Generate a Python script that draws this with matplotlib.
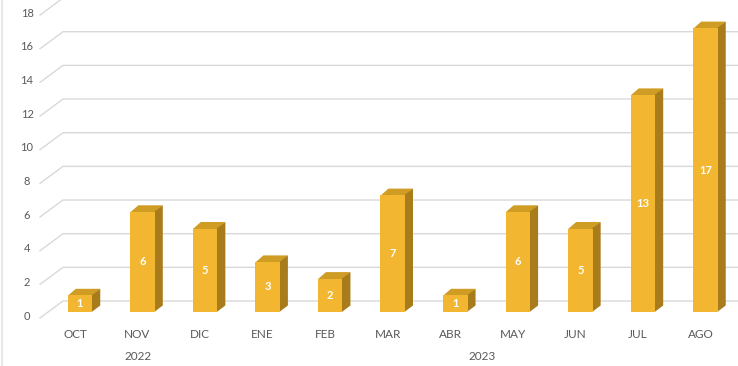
import matplotlib
matplotlib.use("Agg")
import matplotlib.pyplot as plt
from matplotlib.patches import Polygon

months = ["OCT", "NOV", "DIC", "ENE", "FEB", "MAR", "ABR", "MAY", "JUN", "JUL", "AGO"]
values = [1, 6, 5, 3, 2, 7, 1, 6, 5, 13, 17]
years = ["2022", "2023"]
year_spans = [(0, 2), (3, 10)]
yticks = [0, 2, 4, 6, 8, 10, 12, 14, 16, 18]

FRONT = "#F3B631"
TOP = "#CF9C24"
SIDE = "#A87C1B"
TEXT = "#595959"
GRID = "#D9D9D9"

plt.rcParams["font.family"] = ["Lato", "DejaVu Sans"]

W, H = 738, 366
fig = plt.figure(figsize=(W / 100, H / 100), dpi=100)
ax = fig.add_axes([0, 0, 1, 1])

# pixel scale of the data axes
PX_X = 62.55   # pixels per category
PX_Y = 16.7    # pixels per unit
X0_PX = 80     # pixel x of first category
Y0_PX = 312    # pixel y (from top) of value 0 on the bar fronts
ax.set_xlim(-X0_PX / PX_X, (W - X0_PX) / PX_X)
ax.set_ylim(-(H - Y0_PX) / PX_Y, Y0_PX / PX_Y)
ax.axis("off")

def px_x(dpx):
    return dpx / PX_X

def px_y(dpx):
    return dpx / PX_Y

# gridlines (back wall + floor diagonal)
xr = ax.get_xlim()[1]
for t in yticks:
    label_py = 316 - 16.83 * t
    back_py = label_py - 15
    yb = (Y0_PX - back_py) / PX_Y
    yl = (Y0_PX - (label_py + 2)) / PX_Y
    xa = (40 - X0_PX) / PX_X
    xb = (63 - X0_PX) / PX_X
    ax.plot([xa, xb, xr], [yl, yb, yb], color=GRID, lw=1.0, zorder=1,
            solid_joinstyle="miter")
    ax.text((27 - X0_PX) / PX_X, (Y0_PX - label_py) / PX_Y, str(t),
            ha="center", va="center", fontsize=8, color=TEXT)

# left border
ax.plot([(2 - X0_PX) / PX_X] * 2, list(ax.get_ylim()), color="#E3E3E3", lw=1.2)

# 3D bars
bw = px_x(24.5)
dx = px_x(8)
dy = px_y(6.5)
ov = px_x(0.6)
xs = list(range(len(values)))
ax.bar(xs, values, width=bw, color=FRONT, zorder=4, linewidth=0)
for x, v in zip(xs, values):
    l, r = x - bw / 2, x + bw / 2
    ax.add_patch(Polygon([(l, v - 0.03), (r, v - 0.03), (r + dx, v + dy), (l + dx, v + dy)],
                         closed=True, facecolor=TOP, edgecolor="none", zorder=3))
    ax.add_patch(Polygon([(r - ov, 0), (r + dx, dy), (r + dx, v + dy), (r - ov, v)],
                         closed=True, facecolor=SIDE, edgecolor="none", zorder=3))
    ax.text(x, v / 2, str(v), ha="center", va="center", color="white",
            fontsize=8, fontweight="bold", zorder=5)

# category labels
for x, m in zip(xs, months):
    ax.text(x - px_x(5), -px_y(23), m, ha="center", va="center",
            fontsize=8.5, color=TEXT)
for yname, (a, b) in zip(years, year_spans):
    ax.text((a + b) / 2 - px_x(4), -px_y(44), yname, ha="center", va="center",
            fontsize=8.5, color=TEXT)

fig.savefig("out.png", dpi=100)
